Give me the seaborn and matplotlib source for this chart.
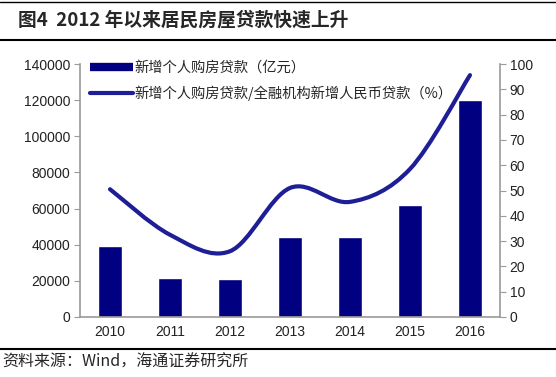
import numpy as np
import matplotlib
matplotlib.use("Agg")
import matplotlib.pyplot as plt
import seaborn as sns
from matplotlib.path import Path
from matplotlib.patches import PathPatch
from matplotlib.lines import Line2D

# -----------------------------
# Data
# -----------------------------
years = ["2010", "2011", "2012", "2013", "2014", "2015", "2016"]
new_mortgage = [39500, 21800, 20900, 44400, 44400, 62000, 120300]   # 亿元
mortgage_share = [50.5, 32.5, 26.0, 51.0, 45.5, 58.5, 95.6]         # %

bar_label = "新增个人购房贷款（亿元）"
line_label = "新增个人购房贷款/全融机构新增人民币贷款（%）"
title = "图4  2012 年以来居民房屋贷款快速上升"
source = "资料来源：Wind，海通证券研究所"

bar_color = "#000080"
line_color = "#1e1e96"
axis_gray = "#9a9a9a"

sns.set_style("white")
plt.rcParams["font.family"] = ["Liberation Sans", "Noto Sans CJK SC", "DejaVu Sans"]
cjk = ["Noto Sans CJK SC", "DejaVu Sans"]

fig = plt.figure(figsize=(5.56, 3.77), dpi=100)
ax = fig.add_axes([80 / 556, 1 - 317 / 377, 420 / 556, 253 / 377])

# bars
sns.barplot(x=years, y=new_mortgage, color=bar_color, saturation=1, width=0.4, ax=ax)
ax.set_ylim(0, 140000)
ax.set_xlim(-0.5, len(years) - 0.5)
ax.set_yticks(np.arange(0, 140001, 20000))
ax.set_xlabel("")
ax.set_ylabel("")

# smoothed line on the right axis (Excel-style smoothing)
ax2 = ax.twinx()
ax2.set_ylim(0, 100)
ax2.set_yticks(np.arange(0, 101, 10))
pts = np.column_stack([np.arange(len(years)), mortgage_share]).astype(float)
n = len(pts)
verts = [tuple(pts[0])]
codes = [Path.MOVETO]
for i in range(n - 1):
    p0 = pts[i - 1] if i > 0 else pts[i]
    p3 = pts[i + 2] if i + 2 < n else pts[i + 1]
    c1 = pts[i] + (pts[i + 1] - p0) / 6
    c2 = pts[i + 1] - (p3 - pts[i]) / 6
    verts += [tuple(c1), tuple(c2), tuple(pts[i + 1])]
    codes += [Path.CURVE4] * 3
ax2.add_patch(PathPatch(Path(verts, codes), facecolor="none", edgecolor=line_color,
                        lw=3, capstyle="round"))

# axes styling
for a in (ax, ax2):
    a.spines["top"].set_visible(False)
    for side in ("left", "right", "bottom"):
        a.spines[side].set_color(axis_gray)
        a.spines[side].set_linewidth(1.2)
ax.spines["right"].set_visible(False)
ax2.spines["left"].set_visible(False)
ax2.spines["bottom"].set_visible(False)

ax.tick_params(axis="y", direction="out", length=4, color=axis_gray, labelsize=10,
               labelcolor="#222222", left=True, pad=3)
ax2.tick_params(axis="y", direction="out", length=4, color=axis_gray, labelsize=10,
                labelcolor="#222222", right=True, pad=3)
ax.tick_params(axis="x", which="major", length=0, labelsize=10, labelcolor="#222222", pad=6)
ax.set_xticks(np.arange(-0.5, len(years), 1), minor=True)
ax.tick_params(axis="x", which="minor", direction="out", length=4, color=axis_gray)

# legend
handles = [Line2D([], [], color=bar_color, lw=6, solid_capstyle="butt"),
           Line2D([], [], color=line_color, lw=3, solid_capstyle="round")]
fig.legend(handles, [bar_label, line_label], loc="upper left",
           bbox_to_anchor=(84 / 556, 1 - 55 / 377), frameon=False,
           prop={"family": cjk, "size": 10.3}, handlelength=3.0, handletextpad=0.15,
           labelspacing=0.75, borderaxespad=0)

# title, rules and source
fig.text(18 / 556, 1 - 20 / 377, title, fontsize=13.5, fontweight="bold",
         family=cjk, va="center", ha="left")
for y, lw in ((2, 1.0), (40, 1.5), (349, 1.5)):
    fig.add_artist(Line2D([0, 1], [1 - y / 377, 1 - y / 377], color="black",
                          lw=lw, transform=fig.transFigure))
fig.text(2 / 556, 1 - 362 / 377, source, fontsize=11.5, family=cjk,
         va="center", ha="left")

fig.savefig("out.png", dpi=100)
